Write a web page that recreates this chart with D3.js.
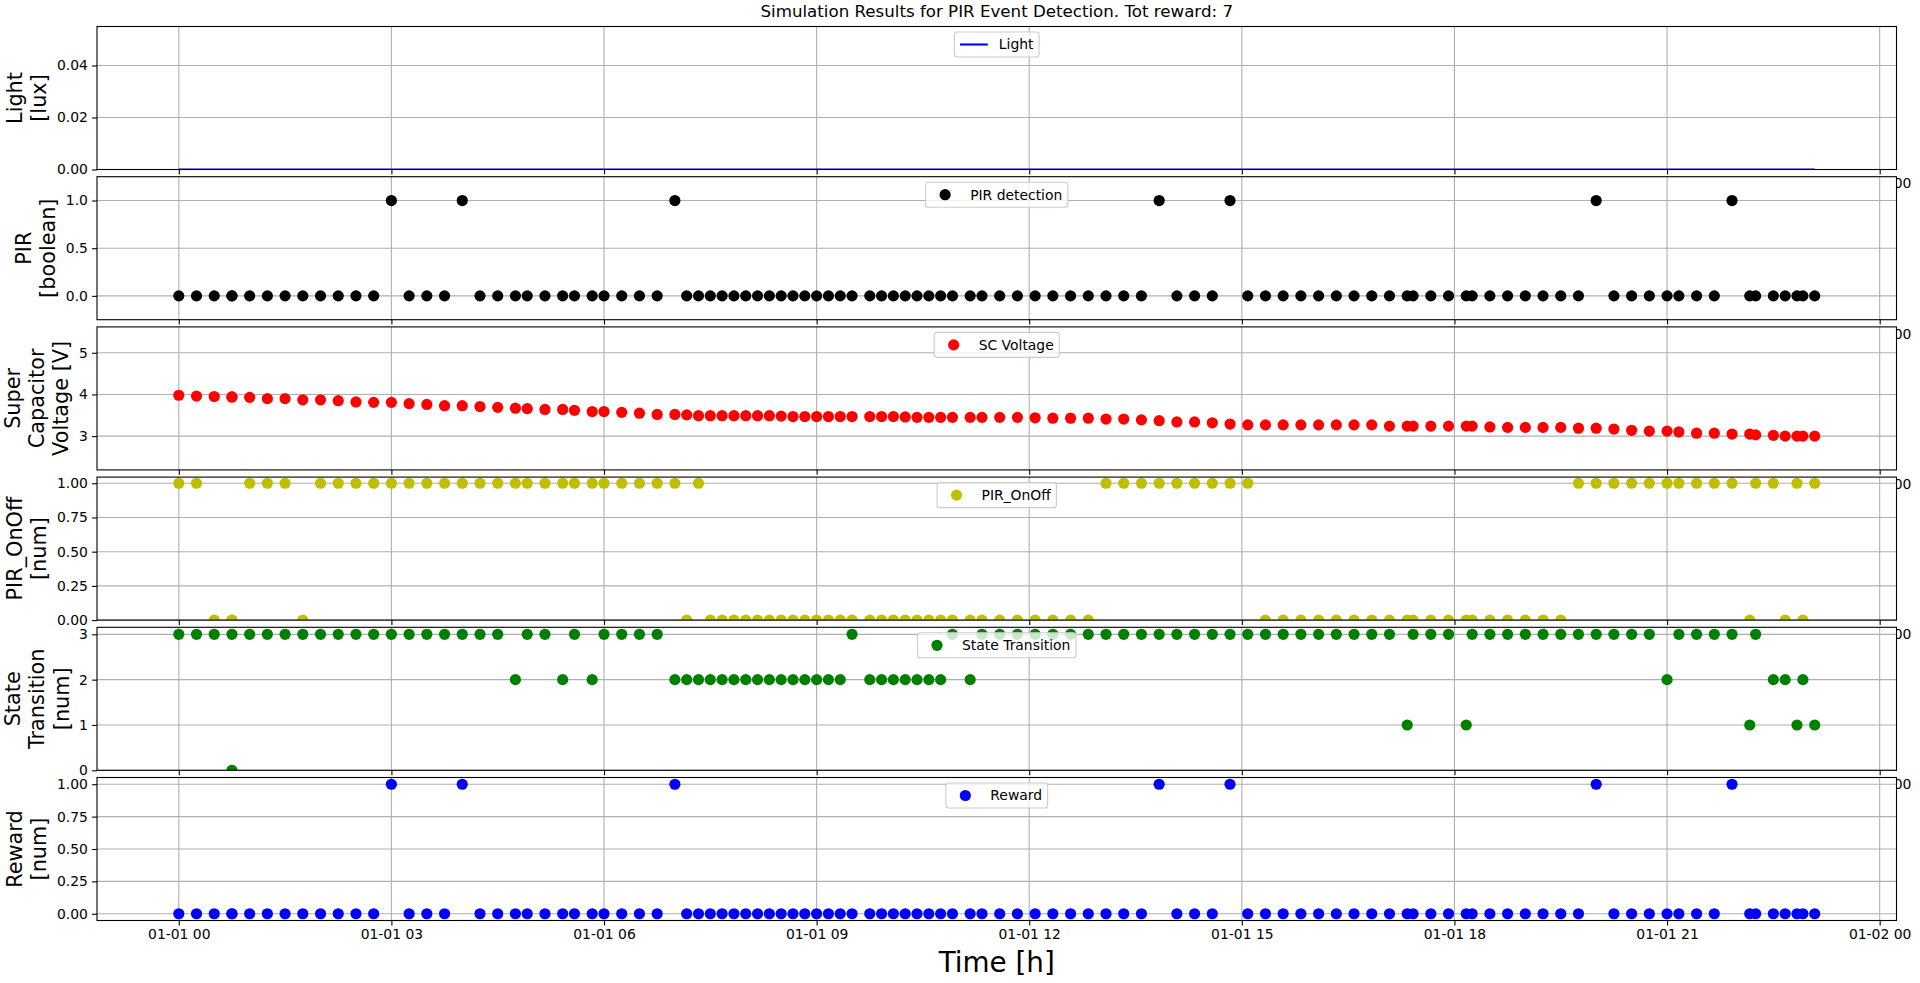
<!DOCTYPE html>
<html><head><meta charset="utf-8">
<script src="https://cdn.jsdelivr.net/npm/d3@7"></script>
<style>
body{margin:0;background:#fff;}
svg{display:block;font-family:"DejaVu Sans",sans-serif;}
</style>
</head><body>
<svg id="chart" width="1920" height="983"></svg>
<script>
// ---- data (time in minutes after 01-01 00:00) ----
const timeMinutes = [0,15,30,45,45,60,75,90,105,120,
 135,150,165,180,195,210,225,240,255,270,
 285,295,310,325,335,350,360,375,390,405,
 420,430,440,450,460,470,480,490,500,510,
 520,530,540,550,560,570,585,595,605,615,
 625,635,645,655,670,680,695,710,725,740,
 755,770,785,800,815,830,845,860,875,890,
 905,920,935,950,965,980,995,1010,1025,1040,
 1045,1060,1075,1090,1095,1110,1125,1140,1155,1170,
 1185,1200,1215,1230,1245,1260,1270,1285,1300,1315,
 1330,1335,1350,1360,1370,1375,1385];
const lightLux = [0,0,0,0,0,0,0,0,0,0, 0,0,0,0,0,0,0,0,0,0, 0,0,0,0,0,0,0,0,0,0,
 0,0,0,0,0,0,0,0,0,0, 0,0,0,0,0,0,0,0,0,0, 0,0,0,0,0,0,0,0,0,0,
 0,0,0,0,0,0,0,0,0,0, 0,0,0,0,0,0,0,0,0,0, 0,0,0,0,0,0,0,0,0,0,
 0,0,0,0,0,0,0,0,0,0, 0,0,0,0,0,0,0];
const pirDetection = [0,0,0,0,0,0,0,0,0,0, 0,0,0,1,0,0,0,1,0,0, 0,0,0,0,0,0,0,0,0,0,
 1,0,0,0,0,0,0,0,0,0, 0,0,0,0,0,0,0,0,0,0, 0,0,0,0,0,0,0,0,0,0,
 0,0,0,0,0,1,0,0,0,1, 0,0,0,0,0,0,0,0,0,0, 0,0,0,0,0,0,0,0,0,0,
 0,1,0,0,0,0,0,0,0,1, 0,0,0,0,0,0,0];
const scVoltage = [3.98,3.96,3.95,3.94,3.94,3.93,3.90,3.90,3.87,3.87,
 3.85,3.82,3.81,3.81,3.78,3.76,3.73,3.73,3.71,3.69,
 3.67,3.66,3.64,3.64,3.62,3.59,3.59,3.57,3.55,3.52,
 3.52,3.51,3.49,3.49,3.49,3.49,3.49,3.49,3.49,3.48,
 3.47,3.47,3.47,3.47,3.47,3.47,3.47,3.47,3.47,3.46,
 3.45,3.45,3.45,3.45,3.45,3.45,3.45,3.45,3.44,3.43,
 3.43,3.43,3.41,3.41,3.39,3.37,3.34,3.34,3.32,3.29,
 3.27,3.27,3.27,3.27,3.27,3.27,3.27,3.27,3.24,3.24,
 3.24,3.24,3.24,3.24,3.24,3.22,3.21,3.21,3.21,3.21,
 3.19,3.19,3.17,3.14,3.12,3.12,3.10,3.07,3.07,3.05,
 3.05,3.03,3.02,3.00,3.00,3.00,3.00];
const pirOnOff = [1,1,0,0,0,1,1,1,0,1, 1,1,1,1,1,1,1,1,1,1, 1,1,1,1,1,1,1,1,1,1,
 1,0,1,0,0,0,0,0,0,0, 0,0,0,0,0,0,0,0,0,0, 0,0,0,0,0,0,0,0,0,0,
 0,0,1,1,1,1,1,1,1,1, 1,0,0,0,0,0,0,0,0,0, 0,0,0,0,0,0,0,0,0,0,
 1,1,1,1,1,1,1,1,1,1, 0,1,1,0,1,0,1];
const stateTransition = [3,3,3,3,0,3,3,3,3,3, 3,3,3,3,3,3,3,3,3,3, 2,3,3,2,3,2,3,3,3,3,
 2,2,2,2,2,2,2,2,2,2, 2,2,2,2,2,3,2,2,2,2, 2,2,2,3,2,3,3,3,3,3,
 3,3,3,3,3,3,3,3,3,3, 3,3,3,3,3,3,3,3,3,1, 3,3,3,1,3,3,3,3,3,3,
 3,3,3,3,3,2,3,3,3,3, 1,3,2,2,1,2,1];
const rewardValues = [0,0,0,0,0,0,0,0,0,0, 0,0,0,1,0,0,0,1,0,0, 0,0,0,0,0,0,0,0,0,0,
 1,0,0,0,0,0,0,0,0,0, 0,0,0,0,0,0,0,0,0,0, 0,0,0,0,0,0,0,0,0,0,
 0,0,0,0,0,1,0,0,0,1, 0,0,0,0,0,0,0,0,0,0, 0,0,0,0,0,0,0,0,0,0,
 0,1,0,0,0,0,0,0,0,1, 0,0,0,0,0,0,0];
const xTickHours = [0,3,6,9,12,15,18,21,24];
const titleText = "Simulation Results for PIR Event Detection. Tot reward: 7";
const xLabelText = "Time [h]";

// ---- layout ----
const svg = d3.select("#chart");
const left = 97, right = 1896.5;
const top0 = 26.5, pitch = 150.2, ph = 143;
const base = Date.UTC(2019,0,1), HOUR = 3600e3;
const x = d3.scaleUtc()
  .domain([new Date(base - 1.154*HOUR), new Date(base + 24.2375*HOUR)])
  .range([left, right]);
const dates = timeMinutes.map(m => new Date(base + m*60000));
const xTicks = xTickHours.map(h => new Date(base + h*HOUR));
const fmtX = d3.utcFormat("%m-%d %H");

const TICK = 13.9, LEG = 13.9, YL = 20.8;
const GRID = "#b0b0b0";
const R = 5.6;

const panels = [
 {values: lightLux, type:"line", color:"#0000ff", domain:[0,0.055], ticks:[0,0.02,0.04], fmt:".2f", label:["Light","[lux]"], legend:"Light"},
 {values: pirDetection, type:"dot", color:"#000000", domain:[-0.25,1.25], ticks:[0,0.5,1], fmt:".1f", label:["PIR","[boolean]"], legend:"PIR detection"},
 {values: scVoltage, type:"dot", color:"#ff0000", domain:[2.19,5.62], ticks:[3,4,5], fmt:"d", label:["Super","Capacitor","Voltage [V]"], legend:"SC Voltage"},
 {values: pirOnOff, type:"dot", color:"#bfbf00", domain:[0,1.045], ticks:[0,0.25,0.5,0.75,1], fmt:".2f", label:["PIR_OnOff","[num]"], legend:"PIR_OnOff"},
 {values: stateTransition, type:"dot", color:"#008000", domain:[0,3.155], ticks:[0,1,2,3], fmt:"d", label:["State","Transition","[num]"], legend:"State Transition"},
 {values: rewardValues, type:"dot", color:"#0000ff", domain:[-0.052,1.052], ticks:[0,0.25,0.5,0.75,1], fmt:".2f", label:["Reward","[num]"], legend:"Reward"}
];

const defs = svg.append("defs");

panels.forEach((p, i) => {
  const t = top0 + i*pitch, b = t + ph;
  const isLast = i === panels.length - 1;
  const y = d3.scaleLinear().domain(p.domain).range([b, t]);
  const g = svg.append("g");
  g.append("rect").attr("x", left).attr("y", t).attr("width", right-left).attr("height", ph).attr("fill", "#fff");
  defs.append("clipPath").attr("id", "clip"+i).append("rect")
    .attr("x", left).attr("y", t).attr("width", right-left).attr("height", ph);

  // grid
  const grid = g.append("g").attr("stroke", GRID).attr("stroke-width", 1.1);
  xTicks.forEach(d => grid.append("line").attr("x1", x(d)).attr("x2", x(d)).attr("y1", t).attr("y2", b));
  p.ticks.forEach(v => grid.append("line").attr("x1", left).attr("x2", right).attr("y1", y(v)).attr("y2", y(v)));

  // data
  const dg = g.append("g").attr("clip-path", "url(#clip"+i+")");
  if (p.type === "line") {
    dg.append("path").datum(p.values)
      .attr("d", d3.line().x((v,k) => x(dates[k])).y(v => y(v)))
      .attr("fill", "none").attr("stroke", p.color).attr("stroke-width", 2.1);
  } else {
    dg.selectAll("circle").data(p.values).join("circle")
      .attr("cx", (v,k) => x(dates[k])).attr("cy", v => y(v)).attr("r", R).attr("fill", p.color);
  }

  // spines
  g.append("rect").attr("x", left).attr("y", t).attr("width", right-left).attr("height", ph)
    .attr("fill", "none").attr("stroke", "#000").attr("stroke-width", 1.1);

  // x axis (upper panels' labels are hidden under the next panel, except the part of the last one that sticks out)
  const xa = g.append("g").attr("transform", `translate(0,${b})`)
    .call(d3.axisBottom(x).tickValues(xTicks).tickFormat(fmtX).tickSize(4.9).tickPadding(4.2));
  xa.select(".domain").remove();
  xa.attr("font-family", null).attr("font-size", null);
  xa.selectAll("line").attr("stroke", "#000").attr("stroke-width", 1.1);
  xa.selectAll("text").attr("font-size", TICK).attr("fill", "#000");
  if (!isLast) {
    xa.selectAll(".tick").filter((d, k) => k < xTicks.length - 1).select("text").remove();
  }

  // y axis
  const ya = g.append("g").attr("transform", `translate(${left},0)`)
    .call(d3.axisLeft(y).tickValues(p.ticks).tickFormat(d3.format(p.fmt)).tickSize(4.9).tickPadding(4.2));
  ya.select(".domain").remove();
  ya.attr("font-family", null).attr("font-size", null);
  ya.selectAll("line").attr("stroke", "#000").attr("stroke-width", 1.1);
  ya.selectAll("text").attr("font-size", TICK).attr("fill", "#000");
  let tickLeft = right;
  ya.selectAll("text").each(function(){ const bb = this.getBBox(); tickLeft = Math.min(tickLeft, left - 4.9 - 4.2 - bb.width); });

  // y label (multi-line, rotated)
  const cy = (t + b)/2;
  const n = p.label.length;
  const lastBase = tickLeft - 5.6 - 4.9;
  p.label.forEach((s, k) => {
    const bx = lastBase - (n-1-k)*24.4;
    g.append("text").attr("transform", `translate(${bx},${cy}) rotate(-90)`)
      .attr("text-anchor", "middle").attr("font-size", YL).attr("fill", "#000").text(s);
  });

  // legend
  const lg = g.append("g");
  const txt = lg.append("text").attr("font-size", LEG).attr("fill", "#000").text(p.legend);
  const tw = txt.node().getComputedTextLength();
  const bw = 3.6*LEG + tw, bh = 25;
  const bxl = (left + right)/2 - bw/2, byt = t + 5.5;
  lg.insert("rect", "text").attr("x", bxl).attr("y", byt).attr("width", bw).attr("height", bh)
    .attr("rx", 2.8).attr("fill", "#fff").attr("fill-opacity", 0.8).attr("stroke", "#cccccc").attr("stroke-width", 1.1);
  const hc = bxl + 0.4*LEG + LEG, midY = byt + bh/2;
  if (p.type === "line") {
    lg.insert("line", "text").attr("x1", bxl + 0.4*LEG).attr("x2", bxl + 2.4*LEG).attr("y1", midY).attr("y2", midY)
      .attr("stroke", p.color).attr("stroke-width", 2.1);
  } else {
    lg.insert("circle", "text").attr("cx", hc).attr("cy", midY).attr("r", R).attr("fill", p.color);
  }
  txt.attr("x", bxl + 3.2*LEG).attr("y", midY).attr("dy", "0.35em");
});

// title & x label
svg.append("text").attr("x", (left+right)/2).attr("y", 17).attr("text-anchor", "middle")
  .attr("font-size", 16.67).attr("fill", "#000").text(titleText);
svg.append("text").attr("x", (left+right)/2).attr("y", 972).attr("text-anchor", "middle")
  .attr("font-size", 27.8).attr("fill", "#000").text(xLabelText);
</script>
</body></html>
